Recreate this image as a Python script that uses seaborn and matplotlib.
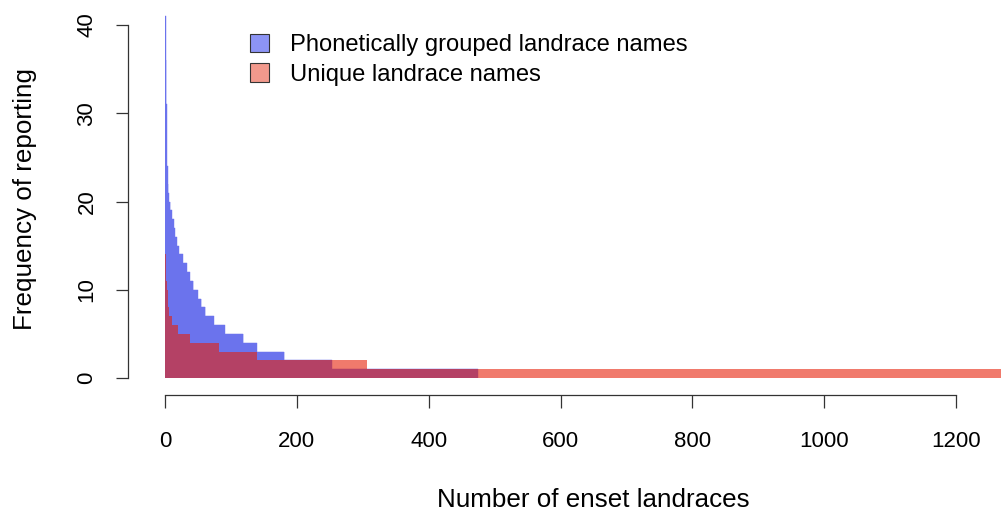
import numpy as np
import pandas as pd
import seaborn as sns
import matplotlib.pyplot as plt
from matplotlib.patches import Patch

# frequency of reporting -> number of landraces reported that often
grouped_freq = [41, 36, 31, 24, 22, 21, 20, 19, 18, 17, 16, 15, 14, 13, 12, 11, 10, 9, 8, 7, 6, 5, 4, 3, 2, 1]
grouped_count = [1, 1, 1, 1, 1, 1, 2, 2, 3, 2, 3, 3, 6, 6, 5, 5, 7, 5, 6, 13, 17, 28, 20, 42, 72, 222]
unique_freq = [14, 12, 11, 10, 9, 8, 7, 6, 5, 4, 3, 2, 1]
unique_count = [1, 1, 1, 1, 1, 1, 4, 10, 18, 44, 57, 167, 994]

legend_labels = ['Phonetically grouped landrace names', 'Unique landrace names']
x_ticks = [0, 200, 400, 600, 800, 1000, 1200]
y_ticks = [0, 10, 20, 30, 40]


def ranked(freq, count):
    # one bar per landrace, most reported first
    f = np.repeat(freq, count)
    return pd.DataFrame({'rank': np.arange(len(f)) + 0.5, 'freq': f})


grouped = ranked(grouped_freq, grouped_count)
unique = ranked(unique_freq, unique_count)

sns.set_style('white')
plt.rcParams['font.family'] = ['Liberation Sans', 'DejaVu Sans']
plt.rcParams['text.color'] = 'black'
plt.rcParams['axes.labelcolor'] = 'black'
plt.rcParams['xtick.color'] = 'black'
plt.rcParams['ytick.color'] = 'black'

fig = plt.figure(figsize=(10.01, 5.19), dpi=100)
ax = fig.add_axes([165 / 1001, 1 - 378 / 519, 836 / 1001, 378 / 519])

blue = (0.42, 0.45, 0.93)
red = (0.90, 0.13, 0.04)
sns.barplot(data=grouped, x='rank', y='freq', native_scale=True, width=1,
            color=blue, saturation=1, errorbar=None, linewidth=0.3, edgecolor=blue, ax=ax)
sns.barplot(data=unique, x='rank', y='freq', native_scale=True, width=1,
            color=red, alpha=0.6, saturation=1, errorbar=None, linewidth=0, ax=ax)

ax.set_xlim(0, 836 / (791 / 1200))
ax.set_ylim(0, 378 / (353 / 40))

for s in ['top', 'right']:
    ax.spines[s].set_visible(False)
ax.spines['left'].set_position(('outward', 37 * 0.72))
ax.spines['bottom'].set_position(('outward', 17 * 0.72))
ax.spines['left'].set_bounds(0, 40)
ax.spines['bottom'].set_bounds(0, 1200)
for s in ['left', 'bottom']:
    ax.spines[s].set_color('#333333')
    ax.spines[s].set_linewidth(0.9)

ax.set_xticks(x_ticks)
ax.set_yticks(y_ticks)
ax.tick_params(axis='both', bottom=True, left=True, length=9, width=0.9,
               color='#333333', labelsize=16)
ax.tick_params(axis='y', pad=13)
ax.tick_params(axis='x', pad=17)
for lbl in ax.get_yticklabels():
    lbl.set_rotation(90)
    lbl.set_va('center')

ax.set_xlabel('Number of enset landraces', fontsize=18.7)
ax.set_ylabel('Frequency of reporting', fontsize=18.7)
ax.xaxis.set_label_coords((593 - 165) / 836, -(500 - 378) / 378)
ax.xaxis.label.set_va('center')
ax.yaxis.set_label_coords((25 - 165) / 836, (378 - 199) / 378)
ax.yaxis.label.set_va('center')

handles = [Patch(facecolor=(0.55, 0.58, 0.96), edgecolor='#333333', linewidth=0.8),
           Patch(facecolor=(0.95, 0.6, 0.55), edgecolor='#333333', linewidth=0.8)]
fig.legend(handles, legend_labels, loc='upper left', bbox_to_anchor=(238 / 1001, 1 - 22 / 519),
           frameon=False, fontsize=17.1, handlelength=0.8, handleheight=0.8,
           handletextpad=0.9, labelspacing=0.3, borderpad=0)

fig.savefig('out.png', dpi=100)
